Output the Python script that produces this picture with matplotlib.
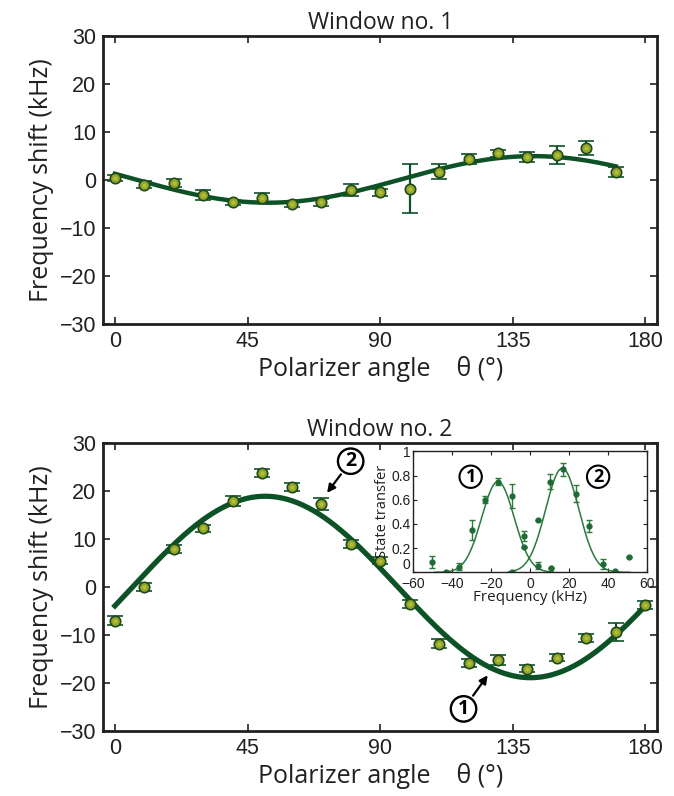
import numpy as np
import matplotlib
matplotlib.use("Agg")
import matplotlib.pyplot as plt

# ---------------- data ----------------
theta1 = [0, 10, 20, 30, 40, 50, 60, 70, 80, 90, 100, 110, 120, 130, 140, 150, 160, 170]
shift1 = [0.4, -1.0, -0.7, -3.1, -4.7, -3.7, -5.0, -4.7, -2.1, -2.6, -1.8, 1.7, 4.3, 5.5, 4.8, 5.2, 6.7, 1.7]
err1 = [0.6, 0.7, 0.8, 1.0, 0.6, 0.9, 0.6, 0.8, 1.2, 0.8, 5.1, 1.6, 1.0, 0.8, 1.1, 1.8, 1.5, 1.0]
fit1_amp, fit1_phase, fit1_off = 4.85, 142.0, 0.1

theta2 = [0, 10, 20, 30, 40, 50, 60, 70, 80, 90, 100, 110, 120, 130, 140, 150, 160, 170, 180]
shift2 = [-7.0, 0.0, 7.9, 12.2, 18.0, 23.8, 20.8, 17.3, 8.9, 5.5, -3.6, -11.8, -15.9, -15.2, -17.0, -14.7, -10.6, -9.4, -3.7]
err2 = [1.0, 0.8, 0.8, 0.8, 1.05, 0.8, 0.8, 1.3, 0.8, 0.8, 0.8, 0.9, 0.8, 1.0, 0.8, 0.8, 0.8, 1.9, 0.8]
fit2_amp, fit2_phase, fit2_off = 18.9, 51.0, 0.0

# inset: state transfer vs frequency
f_1 = [-50.1, -43.2, -36.5, -29.6, -23.1, -16.3, -9.4, -3.1, 3.8, 10.6]
p_1 = [0.083, 0.0, 0.047, 0.35, 0.60, 0.75, 0.63, 0.30, 0.055, 0.033]
e_1 = [0.05, 0.0, 0.03, 0.08, 0.03, 0.03, 0.10, 0.04, 0.03, 0.0]
f_2 = [-9.4, -2.9, 3.8, 10.3, 16.8, 23.7, 30.3, 37.2, 43.8, 50.6]
p_2 = [0.005, 0.21, 0.43, 0.75, 0.85, 0.65, 0.38, 0.07, 0.014, 0.13]
e_2 = [0.0, 0.0, 0.0, 0.06, 0.05, 0.07, 0.05, 0.04, 0.0, 0.0]
g1_amp, g1_cen, g1_sig, g1_range = 0.75, -16.5, 8.3, (-49, 12)
g2_amp, g2_cen, g2_sig, g2_range = 0.86, 16.5, 8.5, (-11, 51)

xticks = [0, 45, 90, 135, 180]
yticks = [-30, -20, -10, 0, 10, 20, 30]

# ---------------- style ----------------
DARK = "#0d5226"
FACE = "#93a52b"
EDGE = "#1e4a1c"
SPINE = "#231f20"
LABELFONT = ["Open Sans", "DejaVu Sans"]
TICKFONT = ["Liberation Sans", "DejaVu Sans"]

fig = plt.figure(figsize=(6.74, 7.96), dpi=100)
ax1 = fig.add_axes([0.153, 0.593, 0.822, 0.362])
ax2 = fig.add_axes([0.153, 0.0817, 0.822, 0.3618])


def sinus(t, a, ph, off):
    return a * np.cos(2 * np.deg2rad(t - ph)) + off


def style_main(ax, title):
    ax.set_xlim(-4, 184)
    ax.set_ylim(-30, 30)
    ax.set_xticks(xticks)
    ax.set_yticks(yticks)
    ax.tick_params(direction="in", top=True, right=True, length=5, width=1.2,
                   color=SPINE, labelsize=15.5, pad=5)
    for lab in ax.get_xticklabels() + ax.get_yticklabels():
        lab.set_family(TICKFONT)
        lab.set_color(SPINE)
    for s in ax.spines.values():
        s.set_linewidth(2)
        s.set_color(SPINE)
    ax.set_title(title, fontsize=16.5, family=LABELFONT, pad=5, color=SPINE)
    ax.set_xlabel("Polarizer angle    θ (°)", fontsize=18, family=LABELFONT,
                  labelpad=3, color=SPINE)
    ax.set_ylabel("Frequency shift (kHz)", fontsize=18, family=LABELFONT,
                  labelpad=4, color=SPINE)


def points(ax, x, y, e):
    ax.errorbar(x, y, yerr=e, fmt="o", ms=7.5, mfc=FACE, mec=EDGE, mew=1.2,
                ecolor=DARK, elinewidth=1.6, capsize=6, capthick=1.6, zorder=3)
    # small highlight to mimic the shaded bead look
    ax.plot(x, y, "o", ms=3.0, mfc="#c2cc3a", mec="none", alpha=0.7, zorder=4)


# top panel
tt = np.linspace(0, 170, 300)
ax1.plot(tt, sinus(tt, fit1_amp, fit1_phase, fit1_off), color=DARK, lw=3.2, zorder=2)
points(ax1, theta1, shift1, err1)
style_main(ax1, "Window no. 1")

# bottom panel
tt2 = np.linspace(0, 180, 300)
ax2.plot(tt2, sinus(tt2, fit2_amp, fit2_phase, fit2_off), color=DARK, lw=3.8, zorder=2)
points(ax2, theta2, shift2, err2)
style_main(ax2, "Window no. 2")

circ = dict(boxstyle="circle,pad=0.14", fc="white", ec="black", lw=1.7)
ax2.annotate("2", xy=(72, 19.6), xytext=(80, 26.2), fontsize=14, fontweight="bold",
             ha="center", va="center", bbox=circ, family=LABELFONT,
             arrowprops=dict(arrowstyle="-|>", color="black", lw=1.6, shrinkA=2, shrinkB=0,
                             mutation_scale=12))
ax2.annotate("1", xy=(126.5, -18.4), xytext=(118.3, -25.4), fontsize=14, fontweight="bold",
             ha="center", va="center", bbox=circ, family=LABELFONT,
             arrowprops=dict(arrowstyle="-|>", color="black", lw=1.6, shrinkA=2, shrinkB=0,
                             mutation_scale=12))

# inset
axi = fig.add_axes([0.613, 0.281, 0.347, 0.152])
IN_PT = "#1f6b35"
IN_LN = "#2b7a3c"
for (lo, hi), a, c, s in [(g1_range, g1_amp, g1_cen, g1_sig), (g2_range, g2_amp, g2_cen, g2_sig)]:
    ff = np.linspace(lo, hi, 200)
    axi.plot(ff, a * np.exp(-(ff - c) ** 2 / (2 * s ** 2)), color=IN_LN, lw=1.1)
axi.errorbar(f_1, p_1, yerr=e_1, fmt="o", ms=3.5, color=IN_PT, ecolor=IN_LN,
             elinewidth=1.0, capsize=2.2, capthick=1.0)
axi.errorbar(f_2, p_2, yerr=e_2, fmt="o", ms=3.5, color=IN_PT, ecolor=IN_LN,
             elinewidth=1.0, capsize=2.2, capthick=1.0)
axi.set_xlim(-60, 60)
axi.set_ylim(0, 1)
axi.set_xticks([-60, -40, -20, 0, 20, 40, 60])
axi.set_yticks([0, 0.2, 0.4, 0.6, 0.8, 1])
axi.set_yticklabels(["0", "0.2", "0.4", "0.6", "0.8", "1"])
axi.tick_params(direction="in", top=True, right=True, length=3, width=0.8,
                labelsize=10, color=SPINE)
axi.tick_params(axis="x", pad=3.5)
axi.tick_params(axis="y", pad=2)
for lab in axi.get_xticklabels() + axi.get_yticklabels():
    lab.set_family(TICKFONT)
    lab.set_color(SPINE)
ylabs = axi.get_yticklabels()
ylabs[0].set_va("bottom")
for s in axi.spines.values():
    s.set_linewidth(1.0)
    s.set_color(SPINE)
axi.set_xlabel("Frequency (kHz)", fontsize=11, family=LABELFONT, labelpad=-1, color=SPINE)
axi.set_ylabel("State transfer", fontsize=10.5, family=LABELFONT, labelpad=1, color=SPINE)
circ2 = dict(boxstyle="circle,pad=0.12", fc="white", ec="black", lw=1.5)
axi.text(-30.5, 0.79, "1", fontsize=13, fontweight="bold", ha="center", va="center",
         bbox=circ2, family=LABELFONT)
axi.text(34.9, 0.79, "2", fontsize=13, fontweight="bold", ha="center", va="center",
         bbox=circ2, family=LABELFONT)

fig.savefig("out.png", dpi=100)
